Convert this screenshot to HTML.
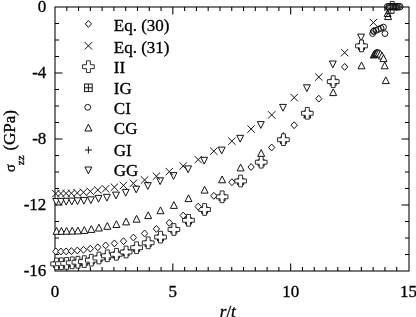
<!DOCTYPE html>
<html><head><meta charset="utf-8"><style>
html,body{margin:0;padding:0;background:#fff;}
svg{display:block;filter:grayscale(1);}
.t{font-family:"Liberation Serif",serif;fill:#000;stroke:#000;stroke-width:0.33;}
text{font-size:17px;}
.m{fill:#fff;stroke:#111;stroke-width:1.0;}
.l{fill:none;stroke:#111;stroke-width:1.0;}
</style></head><body>
<svg width="416" height="317" viewBox="0 0 416 317">
<rect x="55.0" y="7.0" width="354.00" height="264.0" fill="none" stroke="#000" stroke-width="1.05"/>
<path d="M66.78,271.0v-4M66.78,7.0v4M78.57,271.0v-4M78.57,7.0v4M90.35,271.0v-4M90.35,7.0v4M102.13,271.0v-4M102.13,7.0v4M113.92,271.0v-4M113.92,7.0v4M125.70,271.0v-4M125.70,7.0v4M137.48,271.0v-4M137.48,7.0v4M149.27,271.0v-4M149.27,7.0v4M161.05,271.0v-4M161.05,7.0v4M172.83,271.0v-7.5M172.83,7.0v7.5M184.62,271.0v-4M184.62,7.0v4M196.40,271.0v-4M196.40,7.0v4M208.18,271.0v-4M208.18,7.0v4M219.97,271.0v-4M219.97,7.0v4M231.75,271.0v-4M231.75,7.0v4M243.53,271.0v-4M243.53,7.0v4M255.32,271.0v-4M255.32,7.0v4M267.10,271.0v-4M267.10,7.0v4M278.88,271.0v-4M278.88,7.0v4M290.67,271.0v-7.5M290.67,7.0v7.5M302.45,271.0v-4M302.45,7.0v4M314.23,271.0v-4M314.23,7.0v4M326.02,271.0v-4M326.02,7.0v4M337.80,271.0v-4M337.80,7.0v4M349.58,271.0v-4M349.58,7.0v4M361.37,271.0v-4M361.37,7.0v4M373.15,271.0v-4M373.15,7.0v4M384.93,271.0v-4M384.93,7.0v4M396.72,271.0v-4M396.72,7.0v4M55.0,23.50h4M409.0,23.50h-4M55.0,40.00h4M409.0,40.00h-4M55.0,56.50h4M409.0,56.50h-4M55.0,73.00h7.5M409.0,73.00h-7.5M55.0,89.50h4M409.0,89.50h-4M55.0,106.00h4M409.0,106.00h-4M55.0,122.50h4M409.0,122.50h-4M55.0,139.00h7.5M409.0,139.00h-7.5M55.0,155.50h4M409.0,155.50h-4M55.0,172.00h4M409.0,172.00h-4M55.0,188.50h4M409.0,188.50h-4M55.0,205.00h7.5M409.0,205.00h-7.5M55.0,221.50h4M409.0,221.50h-4M55.0,238.00h4M409.0,238.00h-4M55.0,254.50h4M409.0,254.50h-4" stroke="#000" stroke-width="1.05" fill="none"/>
<g transform="translate(46.3,12.00) scale(1.0,1.04)"><text text-anchor="end" class="t">0</text></g>
<g transform="translate(46.3,78.00) scale(1.0,1.04)"><text text-anchor="end" class="t">-4</text></g>
<g transform="translate(46.3,144.00) scale(1.0,1.04)"><text text-anchor="end" class="t">-8</text></g>
<g transform="translate(46.3,210.00) scale(1.0,1.04)"><text text-anchor="end" class="t">-12</text></g>
<g transform="translate(46.3,276.00) scale(1.0,1.04)"><text text-anchor="end" class="t">-16</text></g>
<g transform="translate(55.00,297.4) scale(1.0,1.04)"><text text-anchor="middle" class="t">0</text></g>
<g transform="translate(172.83,297.4) scale(1.0,1.04)"><text text-anchor="middle" class="t">5</text></g>
<g transform="translate(290.67,297.4) scale(1.0,1.04)"><text text-anchor="middle" class="t">10</text></g>
<g transform="translate(408.50,297.4) scale(1.0,1.04)"><text text-anchor="middle" class="t">15</text></g>
<g transform="translate(227.8,316.5) scale(1.0,1)"><text text-anchor="middle" class="t"><tspan font-style="italic">r</tspan>/<tspan font-style="italic">t</tspan></text></g>
<g transform="rotate(-90)"><text x="-172.0" y="15.2" class="t" style="font-size:14.5px">σ</text><text x="-165.2" y="23.6" class="t" style="font-size:11px">zz</text><text x="-150.6" y="14.9" class="t" style="font-size:17px">(GPa)</text></g>
<path d="M85.25,23.90L88.40,20.45L91.55,23.90L88.40,27.35Z" class="m"/>
<g transform="translate(113.8,30.50) scale(1.0,1)"><text class="t">Eq. (30)</text></g>
<path d="M84.70,42.10L92.10,49.50M84.70,49.50L92.10,42.10" class="l"/>
<g transform="translate(113.8,52.50) scale(1.0,1)"><text class="t">Eq. (31)</text></g>
<path d="M86.45,60.85L90.35,60.85L90.35,64.75L94.25,64.75L94.25,68.65L90.35,68.65L90.35,72.55L86.45,72.55L86.45,68.65L82.55,68.65L82.55,64.75L86.45,64.75Z" class="m" style="stroke:#222;stroke-width:0.95" stroke-linejoin="round"/>
<g transform="translate(113.8,73.30) scale(1.0,1)"><text class="t">II</text></g>
<rect x="84.60" y="84.00" width="7.60" height="7.60" class="m"/><path d="M88.40,84.00V91.60M84.60,87.80H92.20" class="l"/>
<g transform="translate(113.8,93.50) scale(1.0,1)"><text class="t">IG</text></g>
<circle cx="87.70" cy="107.30" r="2.9" class="m"/>
<g transform="translate(113.8,114.30) scale(1.0,1)"><text class="t">CI</text></g>
<path d="M88.40,124.20L91.90,131.00L84.90,131.00Z" class="m"/>
<g transform="translate(113.8,134.30) scale(1.0,1)"><text class="t">CG</text></g>
<path d="M88.40,146.50V153.50M84.90,150.00H91.90" class="l"/>
<g transform="translate(113.8,156.10) scale(1.0,1)"><text class="t">GI</text></g>
<path d="M84.95,167.00L91.85,167.00L88.40,173.80Z" class="m"/>
<g transform="translate(113.8,176.10) scale(1.0,1)"><text class="t">GG</text></g>
<path d="M52.75,198.50L59.65,198.50L56.20,205.30Z" class="m"/>
<path d="M57.55,198.40L64.45,198.40L61.00,205.20Z" class="m"/>
<path d="M62.75,198.30L69.65,198.30L66.20,205.10Z" class="m"/>
<path d="M68.35,198.10L75.25,198.10L71.80,204.90Z" class="m"/>
<path d="M74.05,197.80L80.95,197.80L77.50,204.60Z" class="m"/>
<path d="M80.45,197.40L87.35,197.40L83.90,204.20Z" class="m"/>
<path d="M87.45,196.80L94.35,196.80L90.90,203.60Z" class="m"/>
<path d="M95.05,195.40L101.95,195.40L98.50,202.20Z" class="m"/>
<path d="M103.45,194.30L110.35,194.30L106.90,201.10Z" class="m"/>
<path d="M112.55,192.10L119.45,192.10L116.00,198.90Z" class="m"/>
<path d="M122.25,189.40L129.15,189.40L125.70,196.20Z" class="m"/>
<path d="M132.75,186.10L139.65,186.10L136.20,192.90Z" class="m"/>
<path d="M144.35,182.60L151.25,182.60L147.80,189.40Z" class="m"/>
<path d="M156.65,177.80L163.55,177.80L160.10,184.60Z" class="m"/>
<path d="M170.05,172.60L176.95,172.60L173.50,179.40Z" class="m"/>
<path d="M184.65,165.90L191.55,165.90L188.10,172.70Z" class="m"/>
<path d="M200.75,157.30L207.65,157.30L204.20,164.10Z" class="m"/>
<path d="M218.25,147.10L225.15,147.10L221.70,153.90Z" class="m"/>
<path d="M236.75,135.30L243.65,135.30L240.20,142.10Z" class="m"/>
<path d="M257.35,121.60L264.25,121.60L260.80,128.40Z" class="m"/>
<path d="M279.55,104.40L286.45,104.40L283.00,111.20Z" class="m"/>
<path d="M303.45,84.80L310.35,84.80L306.90,91.60Z" class="m"/>
<path d="M329.35,61.00L336.25,61.00L332.80,67.80Z" class="m"/>
<path d="M357.65,34.10L364.55,34.10L361.10,40.90Z" class="m"/>
<path d="M357.15,45.30L364.05,45.30L360.60,52.10Z" class="m"/>
<path d="M56.60,227.50L60.10,234.30L53.10,234.30Z" class="m"/>
<path d="M61.40,227.50L64.90,234.30L57.90,234.30Z" class="m"/>
<path d="M66.60,227.40L70.10,234.20L63.10,234.20Z" class="m"/>
<path d="M72.20,227.30L75.70,234.10L68.70,234.10Z" class="m"/>
<path d="M77.90,227.10L81.40,233.90L74.40,233.90Z" class="m"/>
<path d="M84.30,226.60L87.80,233.40L80.80,233.40Z" class="m"/>
<path d="M91.30,225.60L94.80,232.40L87.80,232.40Z" class="m"/>
<path d="M98.90,224.20L102.40,231.00L95.40,231.00Z" class="m"/>
<path d="M107.30,222.50L110.80,229.30L103.80,229.30Z" class="m"/>
<path d="M116.40,220.70L119.90,227.50L112.90,227.50Z" class="m"/>
<path d="M126.10,218.10L129.60,224.90L122.60,224.90Z" class="m"/>
<path d="M136.60,215.40L140.10,222.20L133.10,222.20Z" class="m"/>
<path d="M148.20,211.80L151.70,218.60L144.70,218.60Z" class="m"/>
<path d="M160.50,206.90L164.00,213.70L157.00,213.70Z" class="m"/>
<path d="M173.90,201.60L177.40,208.40L170.40,208.40Z" class="m"/>
<path d="M188.50,194.80L192.00,201.60L185.00,201.60Z" class="m"/>
<path d="M204.60,186.30L208.10,193.10L201.10,193.10Z" class="m"/>
<path d="M222.10,176.00L225.60,182.80L218.60,182.80Z" class="m"/>
<path d="M240.60,164.10L244.10,170.90L237.10,170.90Z" class="m"/>
<path d="M261.20,149.60L264.70,156.40L257.70,156.40Z" class="m"/>
<path d="M283.40,132.60L286.90,139.40L279.90,139.40Z" class="m"/>
<path d="M307.30,111.10L310.80,117.90L303.80,117.90Z" class="m"/>
<path d="M333.20,88.80L336.70,95.60L329.70,95.60Z" class="m"/>
<path d="M361.50,62.00L365.00,68.80L358.00,68.80Z" class="m"/>
<path d="M384.70,62.00L388.20,68.80L381.20,68.80Z" class="m"/>
<path d="M385.80,76.80L389.30,83.60L382.30,83.60Z" class="m"/>
<path d="M373.80,51.20L377.30,58.00L370.30,58.00Z" class="m"/>
<path d="M374.50,50.50L378.00,57.30L371.00,57.30Z" class="m"/>
<path d="M375.20,50.00L378.70,56.80L371.70,56.80Z" class="m"/>
<path d="M375.90,49.60L379.40,56.40L372.40,56.40Z" class="m"/>
<path d="M376.60,49.30L380.10,56.10L373.10,56.10Z" class="m"/>
<path d="M377.40,49.20L380.90,56.00L373.90,56.00Z" class="m"/>
<path d="M378.80,49.40L382.30,56.20L375.30,56.20Z" class="m"/>
<path d="M380.40,50.40L383.90,57.20L376.90,57.20Z" class="m"/>
<path d="M382.00,52.20L385.50,59.00L378.50,59.00Z" class="m"/>
<path d="M383.50,54.80L387.00,61.60L380.00,61.60Z" class="m"/>
<path d="M389.90,6.60L393.40,13.40L386.40,13.40Z" class="l"/>
<path d="M387.60,9.70L391.10,16.50L384.10,16.50Z" class="l"/>
<path d="M388.10,12.80L391.60,19.60L384.60,19.60Z" class="l"/>
<circle cx="372.60" cy="33.60" r="2.9" class="m"/>
<circle cx="385.00" cy="33.60" r="2.9" class="m"/>
<circle cx="373.60" cy="31.40" r="3.0" class="l"/>
<circle cx="376.05" cy="30.35" r="3.0" class="l"/>
<circle cx="378.50" cy="29.30" r="3.0" class="l"/>
<circle cx="380.95" cy="28.25" r="3.0" class="l"/>
<circle cx="383.40" cy="27.20" r="3.0" class="l"/>
<rect x="53.60" y="261.50" width="6.00" height="6.00" class="m"/><path d="M56.60,261.50V267.50M53.60,264.50H59.60" class="l"/>
<rect x="58.40" y="261.30" width="6.00" height="6.00" class="m"/><path d="M61.40,261.30V267.30M58.40,264.30H64.40" class="l"/>
<rect x="63.60" y="261.00" width="6.00" height="6.00" class="m"/><path d="M66.60,261.00V267.00M63.60,264.00H69.60" class="l"/>
<rect x="69.20" y="260.40" width="6.00" height="6.00" class="m"/><path d="M72.20,260.40V266.40M69.20,263.40H75.20" class="l"/>
<rect x="74.90" y="259.80" width="6.00" height="6.00" class="m"/><path d="M77.90,259.80V265.80M74.90,262.80H80.90" class="l"/>
<rect x="81.30" y="259.20" width="6.00" height="6.00" class="m"/><path d="M84.30,259.20V265.20M81.30,262.20H87.30" class="l"/>
<rect x="88.30" y="257.80" width="6.00" height="6.00" class="m"/><path d="M91.30,257.80V263.80M88.30,260.80H94.30" class="l"/>
<rect x="95.90" y="255.60" width="6.00" height="6.00" class="m"/><path d="M98.90,255.60V261.60M95.90,258.60H101.90" class="l"/>
<rect x="104.30" y="253.40" width="6.00" height="6.00" class="m"/><path d="M107.30,253.40V259.40M104.30,256.40H110.30" class="l"/>
<rect x="113.40" y="251.90" width="6.00" height="6.00" class="m"/><path d="M116.40,251.90V257.90M113.40,254.90H119.40" class="l"/>
<rect x="123.10" y="249.60" width="6.00" height="6.00" class="m"/><path d="M126.10,249.60V255.60M123.10,252.60H129.10" class="l"/>
<rect x="133.60" y="245.30" width="6.00" height="6.00" class="m"/><path d="M136.60,245.30V251.30M133.60,248.30H139.60" class="l"/>
<rect x="145.20" y="240.40" width="6.00" height="6.00" class="m"/><path d="M148.20,240.40V246.40M145.20,243.40H151.20" class="l"/>
<rect x="157.50" y="234.70" width="6.00" height="6.00" class="m"/><path d="M160.50,234.70V240.70M157.50,237.70H163.50" class="l"/>
<rect x="170.90" y="227.10" width="6.00" height="6.00" class="m"/><path d="M173.90,227.10V233.10M170.90,230.10H176.90" class="l"/>
<rect x="185.50" y="217.90" width="6.00" height="6.00" class="m"/><path d="M188.50,217.90V223.90M185.50,220.90H191.50" class="l"/>
<rect x="201.60" y="207.10" width="6.00" height="6.00" class="m"/><path d="M204.60,207.10V213.10M201.60,210.10H207.60" class="l"/>
<rect x="219.10" y="194.40" width="6.00" height="6.00" class="m"/><path d="M222.10,194.40V200.40M219.10,197.40H225.10" class="l"/>
<rect x="237.60" y="178.60" width="6.00" height="6.00" class="m"/><path d="M240.60,178.60V184.60M237.60,181.60H243.60" class="l"/>
<rect x="258.20" y="159.80" width="6.00" height="6.00" class="m"/><path d="M261.20,159.80V165.80M258.20,162.80H264.20" class="l"/>
<rect x="280.40" y="137.30" width="6.00" height="6.00" class="m"/><path d="M283.40,137.30V143.30M280.40,140.30H286.40" class="l"/>
<rect x="304.30" y="110.90" width="6.00" height="6.00" class="m"/><path d="M307.30,110.90V116.90M304.30,113.90H310.30" class="l"/>
<rect x="330.20" y="79.20" width="6.00" height="6.00" class="m"/><path d="M333.20,79.20V85.20M330.20,82.20H336.20" class="l"/>
<rect x="358.50" y="43.50" width="6.00" height="6.00" class="m"/><path d="M361.50,43.50V49.50M358.50,46.50H364.50" class="l"/>
<path d="M54.65,258.05L58.55,258.05L58.55,261.95L62.45,261.95L62.45,265.85L58.55,265.85L58.55,269.75L54.65,269.75L54.65,265.85L50.75,265.85L50.75,261.95L54.65,261.95Z" class="m" style="stroke:#222;stroke-width:0.95" stroke-linejoin="round"/>
<path d="M59.45,257.85L63.35,257.85L63.35,261.75L67.25,261.75L67.25,265.65L63.35,265.65L63.35,269.55L59.45,269.55L59.45,265.65L55.55,265.65L55.55,261.75L59.45,261.75Z" class="m" style="stroke:#222;stroke-width:0.95" stroke-linejoin="round"/>
<path d="M64.65,257.55L68.55,257.55L68.55,261.45L72.45,261.45L72.45,265.35L68.55,265.35L68.55,269.25L64.65,269.25L64.65,265.35L60.75,265.35L60.75,261.45L64.65,261.45Z" class="m" style="stroke:#222;stroke-width:0.95" stroke-linejoin="round"/>
<path d="M70.25,256.95L74.15,256.95L74.15,260.85L78.05,260.85L78.05,264.75L74.15,264.75L74.15,268.65L70.25,268.65L70.25,264.75L66.35,264.75L66.35,260.85L70.25,260.85Z" class="m" style="stroke:#222;stroke-width:0.95" stroke-linejoin="round"/>
<path d="M75.95,256.35L79.85,256.35L79.85,260.25L83.75,260.25L83.75,264.15L79.85,264.15L79.85,268.05L75.95,268.05L75.95,264.15L72.05,264.15L72.05,260.25L75.95,260.25Z" class="m" style="stroke:#222;stroke-width:0.95" stroke-linejoin="round"/>
<path d="M82.35,255.75L86.25,255.75L86.25,259.65L90.15,259.65L90.15,263.55L86.25,263.55L86.25,267.45L82.35,267.45L82.35,263.55L78.45,263.55L78.45,259.65L82.35,259.65Z" class="m" style="stroke:#222;stroke-width:0.95" stroke-linejoin="round"/>
<path d="M89.35,254.35L93.25,254.35L93.25,258.25L97.15,258.25L97.15,262.15L93.25,262.15L93.25,266.05L89.35,266.05L89.35,262.15L85.45,262.15L85.45,258.25L89.35,258.25Z" class="m" style="stroke:#222;stroke-width:0.95" stroke-linejoin="round"/>
<path d="M96.95,252.15L100.85,252.15L100.85,256.05L104.75,256.05L104.75,259.95L100.85,259.95L100.85,263.85L96.95,263.85L96.95,259.95L93.05,259.95L93.05,256.05L96.95,256.05Z" class="m" style="stroke:#222;stroke-width:0.95" stroke-linejoin="round"/>
<path d="M105.35,249.95L109.25,249.95L109.25,253.85L113.15,253.85L113.15,257.75L109.25,257.75L109.25,261.65L105.35,261.65L105.35,257.75L101.45,257.75L101.45,253.85L105.35,253.85Z" class="m" style="stroke:#222;stroke-width:0.95" stroke-linejoin="round"/>
<path d="M114.45,248.45L118.35,248.45L118.35,252.35L122.25,252.35L122.25,256.25L118.35,256.25L118.35,260.15L114.45,260.15L114.45,256.25L110.55,256.25L110.55,252.35L114.45,252.35Z" class="m" style="stroke:#222;stroke-width:0.95" stroke-linejoin="round"/>
<path d="M124.15,246.15L128.05,246.15L128.05,250.05L131.95,250.05L131.95,253.95L128.05,253.95L128.05,257.85L124.15,257.85L124.15,253.95L120.25,253.95L120.25,250.05L124.15,250.05Z" class="m" style="stroke:#222;stroke-width:0.95" stroke-linejoin="round"/>
<path d="M134.65,241.85L138.55,241.85L138.55,245.75L142.45,245.75L142.45,249.65L138.55,249.65L138.55,253.55L134.65,253.55L134.65,249.65L130.75,249.65L130.75,245.75L134.65,245.75Z" class="m" style="stroke:#222;stroke-width:0.95" stroke-linejoin="round"/>
<path d="M146.25,236.95L150.15,236.95L150.15,240.85L154.05,240.85L154.05,244.75L150.15,244.75L150.15,248.65L146.25,248.65L146.25,244.75L142.35,244.75L142.35,240.85L146.25,240.85Z" class="m" style="stroke:#222;stroke-width:0.95" stroke-linejoin="round"/>
<path d="M158.55,231.25L162.45,231.25L162.45,235.15L166.35,235.15L166.35,239.05L162.45,239.05L162.45,242.95L158.55,242.95L158.55,239.05L154.65,239.05L154.65,235.15L158.55,235.15Z" class="m" style="stroke:#222;stroke-width:0.95" stroke-linejoin="round"/>
<path d="M171.95,223.65L175.85,223.65L175.85,227.55L179.75,227.55L179.75,231.45L175.85,231.45L175.85,235.35L171.95,235.35L171.95,231.45L168.05,231.45L168.05,227.55L171.95,227.55Z" class="m" style="stroke:#222;stroke-width:0.95" stroke-linejoin="round"/>
<path d="M186.55,214.45L190.45,214.45L190.45,218.35L194.35,218.35L194.35,222.25L190.45,222.25L190.45,226.15L186.55,226.15L186.55,222.25L182.65,222.25L182.65,218.35L186.55,218.35Z" class="m" style="stroke:#222;stroke-width:0.95" stroke-linejoin="round"/>
<path d="M202.65,203.65L206.55,203.65L206.55,207.55L210.45,207.55L210.45,211.45L206.55,211.45L206.55,215.35L202.65,215.35L202.65,211.45L198.75,211.45L198.75,207.55L202.65,207.55Z" class="m" style="stroke:#222;stroke-width:0.95" stroke-linejoin="round"/>
<path d="M220.15,190.95L224.05,190.95L224.05,194.85L227.95,194.85L227.95,198.75L224.05,198.75L224.05,202.65L220.15,202.65L220.15,198.75L216.25,198.75L216.25,194.85L220.15,194.85Z" class="m" style="stroke:#222;stroke-width:0.95" stroke-linejoin="round"/>
<path d="M238.65,175.15L242.55,175.15L242.55,179.05L246.45,179.05L246.45,182.95L242.55,182.95L242.55,186.85L238.65,186.85L238.65,182.95L234.75,182.95L234.75,179.05L238.65,179.05Z" class="m" style="stroke:#222;stroke-width:0.95" stroke-linejoin="round"/>
<path d="M259.25,156.35L263.15,156.35L263.15,160.25L267.05,160.25L267.05,164.15L263.15,164.15L263.15,168.05L259.25,168.05L259.25,164.15L255.35,164.15L255.35,160.25L259.25,160.25Z" class="m" style="stroke:#222;stroke-width:0.95" stroke-linejoin="round"/>
<path d="M281.45,133.85L285.35,133.85L285.35,137.75L289.25,137.75L289.25,141.65L285.35,141.65L285.35,145.55L281.45,145.55L281.45,141.65L277.55,141.65L277.55,137.75L281.45,137.75Z" class="m" style="stroke:#222;stroke-width:0.95" stroke-linejoin="round"/>
<path d="M305.35,107.45L309.25,107.45L309.25,111.35L313.15,111.35L313.15,115.25L309.25,115.25L309.25,119.15L305.35,119.15L305.35,115.25L301.45,115.25L301.45,111.35L305.35,111.35Z" class="m" style="stroke:#222;stroke-width:0.95" stroke-linejoin="round"/>
<path d="M331.25,75.75L335.15,75.75L335.15,79.65L339.05,79.65L339.05,83.55L335.15,83.55L335.15,87.45L331.25,87.45L331.25,83.55L327.35,83.55L327.35,79.65L331.25,79.65Z" class="m" style="stroke:#222;stroke-width:0.95" stroke-linejoin="round"/>
<path d="M359.55,40.05L363.45,40.05L363.45,43.95L367.35,43.95L367.35,47.85L363.45,47.85L363.45,51.75L359.55,51.75L359.55,47.85L355.65,47.85L355.65,43.95L359.55,43.95Z" class="m" style="stroke:#222;stroke-width:0.95" stroke-linejoin="round"/>
<path d="M390.25,1.45L394.15,1.45L394.15,5.35L398.05,5.35L398.05,9.25L394.15,9.25L394.15,13.15L390.25,13.15L390.25,9.25L386.35,9.25L386.35,5.35L390.25,5.35Z" class="m" style="stroke:#222;stroke-width:0.95" stroke-linejoin="round"/>
<circle cx="387.70" cy="6.70" r="3.3" class="l"/>
<circle cx="389.20" cy="6.70" r="3.3" class="l"/>
<circle cx="390.70" cy="6.70" r="3.3" class="l"/>
<circle cx="392.20" cy="6.70" r="3.3" class="l"/>
<circle cx="393.70" cy="6.70" r="3.3" class="l"/>
<circle cx="395.20" cy="6.70" r="3.3" class="l"/>
<circle cx="396.70" cy="6.70" r="3.3" class="l"/>
<circle cx="398.20" cy="6.70" r="3.3" class="l"/>
<circle cx="399.70" cy="6.70" r="3.3" class="l"/>
<path d="M52.10,189.90L59.50,197.30M52.10,197.30L59.50,189.90" class="l"/>
<path d="M57.20,189.80L64.60,197.20M57.20,197.20L64.60,189.80" class="l"/>
<path d="M62.40,189.70L69.80,197.10M62.40,197.10L69.80,189.70" class="l"/>
<path d="M67.70,189.50L75.10,196.90M67.70,196.90L75.10,189.50" class="l"/>
<path d="M73.60,189.20L81.00,196.60M73.60,196.60L81.00,189.20" class="l"/>
<path d="M79.80,188.60L87.20,196.00M79.80,196.00L87.20,188.60" class="l"/>
<path d="M86.60,187.70L94.00,195.10M86.60,195.10L94.00,187.70" class="l"/>
<path d="M94.10,186.30L101.50,193.70M94.10,193.70L101.50,186.30" class="l"/>
<path d="M101.90,185.10L109.30,192.50M101.90,192.50L109.30,185.10" class="l"/>
<path d="M110.70,183.50L118.10,190.90M110.70,190.90L118.10,183.50" class="l"/>
<path d="M119.80,181.70L127.20,189.10M119.80,189.10L127.20,181.70" class="l"/>
<path d="M129.70,179.60L137.10,187.00M129.70,187.00L137.10,179.60" class="l"/>
<path d="M140.90,176.30L148.30,183.70M140.90,183.70L148.30,176.30" class="l"/>
<path d="M152.70,172.50L160.10,179.90M152.70,179.90L160.10,172.50" class="l"/>
<path d="M165.60,167.90L173.00,175.30M165.60,175.30L173.00,167.90" class="l"/>
<path d="M179.50,162.30L186.90,169.70M179.50,169.70L186.90,162.30" class="l"/>
<path d="M194.50,155.90L201.90,163.30M194.50,163.30L201.90,155.90" class="l"/>
<path d="M210.10,147.50L217.50,154.90M210.10,154.90L217.50,147.50" class="l"/>
<path d="M228.20,137.50L235.60,144.90M228.20,144.90L235.60,137.50" class="l"/>
<path d="M247.40,125.30L254.80,132.70M247.40,132.70L254.80,125.30" class="l"/>
<path d="M268.00,111.20L275.40,118.60M268.00,118.60L275.40,111.20" class="l"/>
<path d="M290.50,93.90L297.90,101.30M290.50,101.30L297.90,93.90" class="l"/>
<path d="M315.10,73.30L322.50,80.70M315.10,80.70L322.50,73.30" class="l"/>
<path d="M341.00,48.90L348.40,56.30M341.00,56.30L348.40,48.90" class="l"/>
<path d="M369.70,18.90L377.10,26.30M369.70,26.30L377.10,18.90" class="l"/>
<path d="M52.65,251.40L55.80,247.95L58.95,251.40L55.80,254.85Z" class="m"/>
<path d="M57.75,251.50L60.90,248.05L64.05,251.50L60.90,254.95Z" class="m"/>
<path d="M62.95,251.40L66.10,247.95L69.25,251.40L66.10,254.85Z" class="m"/>
<path d="M68.25,251.10L71.40,247.65L74.55,251.10L71.40,254.55Z" class="m"/>
<path d="M74.15,250.50L77.30,247.05L80.45,250.50L77.30,253.95Z" class="m"/>
<path d="M80.35,249.80L83.50,246.35L86.65,249.80L83.50,253.25Z" class="m"/>
<path d="M87.15,248.70L90.30,245.25L93.45,248.70L90.30,252.15Z" class="m"/>
<path d="M94.65,247.30L97.80,243.85L100.95,247.30L97.80,250.75Z" class="m"/>
<path d="M102.45,245.40L105.60,241.95L108.75,245.40L105.60,248.85Z" class="m"/>
<path d="M111.25,243.40L114.40,239.95L117.55,243.40L114.40,246.85Z" class="m"/>
<path d="M120.35,241.20L123.50,237.75L126.65,241.20L123.50,244.65Z" class="m"/>
<path d="M130.25,237.50L133.40,234.05L136.55,237.50L133.40,240.95Z" class="m"/>
<path d="M141.45,233.50L144.60,230.05L147.75,233.50L144.60,236.95Z" class="m"/>
<path d="M153.25,228.90L156.40,225.45L159.55,228.90L156.40,232.35Z" class="m"/>
<path d="M166.15,222.80L169.30,219.35L172.45,222.80L169.30,226.25Z" class="m"/>
<path d="M180.05,215.50L183.20,212.05L186.35,215.50L183.20,218.95Z" class="m"/>
<path d="M195.05,206.60L198.20,203.15L201.35,206.60L198.20,210.05Z" class="m"/>
<path d="M210.65,195.80L213.80,192.35L216.95,195.80L213.80,199.25Z" class="m"/>
<path d="M228.75,182.20L231.90,178.75L235.05,182.20L231.90,185.65Z" class="m"/>
<path d="M247.95,167.00L251.10,163.55L254.25,167.00L251.10,170.45Z" class="m"/>
<path d="M268.55,147.50L271.70,144.05L274.85,147.50L271.70,150.95Z" class="m"/>
<path d="M291.05,125.20L294.20,121.75L297.35,125.20L294.20,128.65Z" class="m"/>
<path d="M315.65,98.70L318.80,95.25L321.95,98.70L318.80,102.15Z" class="m"/>
<path d="M341.55,66.90L344.70,63.45L347.85,66.90L344.70,70.35Z" class="m"/>
<path d="M370.25,31.00L373.40,27.55L376.55,31.00L373.40,34.45Z" class="l"/>
</svg>
</body></html>
